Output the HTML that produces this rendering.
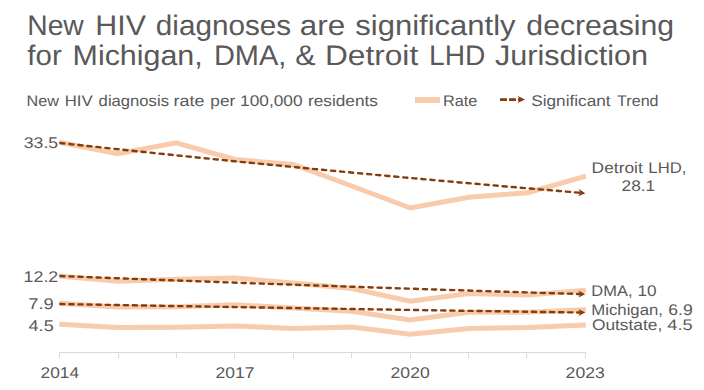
<!DOCTYPE html>
<html><head><meta charset="utf-8"><style>
html,body{margin:0;padding:0;background:#fff;}
svg{display:block;}
text{font-family:"Liberation Sans",sans-serif;fill:#595959;text-rendering:geometricPrecision;}
.ax{stroke:#D9D9D9;stroke-width:1;}
.rl{fill:none;stroke:#F8CBAD;stroke-width:5;stroke-linejoin:miter;}
.tr{fill:none;stroke:#843C0C;stroke-width:2.4;stroke-dasharray:4.2 4.87;stroke-linecap:round;stroke-dashoffset:-1.1;}
</style></head><body>
<svg width="704" height="390" viewBox="0 0 704 390">
<rect width="704" height="390" fill="#fff"/>
<line x1="59" y1="352.5" x2="586" y2="352.5" class="ax"/>
<line x1="59.5" y1="352" x2="59.5" y2="358" class="ax"/><line x1="118.5" y1="352" x2="118.5" y2="358" class="ax"/><line x1="176.5" y1="352" x2="176.5" y2="358" class="ax"/><line x1="234.5" y1="352" x2="234.5" y2="358" class="ax"/><line x1="293.5" y1="352" x2="293.5" y2="358" class="ax"/><line x1="351.5" y1="352" x2="351.5" y2="358" class="ax"/><line x1="410.5" y1="352" x2="410.5" y2="358" class="ax"/><line x1="468.5" y1="352" x2="468.5" y2="358" class="ax"/><line x1="526.5" y1="352" x2="526.5" y2="358" class="ax"/><line x1="585.5" y1="352" x2="585.5" y2="358" class="ax"/>
<polyline points="59.2,324.3 117.7,327.4 176.2,327.3 234.8,326.0 293.3,328.4 351.8,326.9 410.3,334.3 468.9,328.6 527.4,327.5 585.9,324.9" class="rl"/>
<polyline points="59.2,303.3 117.7,306.9 176.2,306.8 234.8,304.8 293.3,308.0 351.8,311.2 410.3,320.0 468.9,312.3 527.4,312.2 585.9,309.8" class="rl"/>
<polyline points="59.2,276.0 117.7,281.2 176.2,279.2 234.8,278.0 293.3,283.0 351.8,288.5 410.3,301.2 468.9,293.5 527.4,295.0 585.9,290.2" class="rl"/>
<polyline points="59.2,142.3 117.7,153.8 176.2,142.9 234.8,159.5 293.3,164.5 351.8,186.0 410.3,208.0 468.9,197.3 527.4,192.7 585.9,176.1" class="rl"/>
<polyline points="59.20,304.00 65.78,304.12 72.35,304.24 78.93,304.35 85.50,304.47 92.08,304.59 98.66,304.70 105.23,304.82 111.81,304.94 118.39,305.05 124.96,305.17 131.54,305.28 138.11,305.40 144.69,305.51 151.27,305.63 157.84,305.74 164.42,305.86 171.00,305.97 177.57,306.08 184.15,306.20 190.72,306.31 197.30,306.42 203.88,306.54 210.45,306.65 217.03,306.76 223.61,306.87 230.18,306.98 236.76,307.09 243.33,307.20 249.91,307.31 256.49,307.42 263.06,307.53 269.64,307.64 276.22,307.75 282.79,307.86 289.37,307.97 295.94,308.08 302.52,308.19 309.10,308.29 315.67,308.40 322.25,308.51 328.83,308.62 335.40,308.72 341.98,308.83 348.55,308.94 355.13,309.04 361.71,309.15 368.28,309.26 374.86,309.36 381.44,309.47 388.01,309.57 394.59,309.68 401.16,309.78 407.74,309.88 414.32,309.99 420.89,310.09 427.47,310.19 434.05,310.30 440.62,310.40 447.20,310.50 453.77,310.61 460.35,310.71 466.93,310.81 473.50,310.91 480.08,311.01 486.66,311.11 493.23,311.21 499.81,311.31 506.38,311.41 512.96,311.51 519.54,311.61 526.11,311.71 532.69,311.81 539.27,311.91 545.84,312.01 552.42,312.11 558.99,312.21 565.57,312.31 572.15,312.40 578.72,312.50 579.50,312.51" class="tr"/><polygon points="585.30,312.60 578.55,308.90 580.30,312.53 578.45,316.10" fill="#843C0C"/>
<polyline points="59.20,276.00 65.78,276.26 72.35,276.52 78.93,276.78 85.50,277.03 92.08,277.29 98.66,277.54 105.23,277.80 111.81,278.05 118.39,278.30 124.96,278.55 131.54,278.81 138.11,279.06 144.69,279.30 151.27,279.55 157.84,279.80 164.42,280.05 171.00,280.29 177.57,280.54 184.15,280.78 190.72,281.02 197.30,281.27 203.88,281.51 210.45,281.75 217.03,281.99 223.61,282.23 230.18,282.47 236.76,282.70 243.33,282.94 249.91,283.18 256.49,283.41 263.06,283.65 269.64,283.88 276.22,284.11 282.79,284.34 289.37,284.57 295.94,284.80 302.52,285.03 309.10,285.26 315.67,285.49 322.25,285.72 328.83,285.94 335.40,286.17 341.98,286.40 348.55,286.62 355.13,286.84 361.71,287.07 368.28,287.29 374.86,287.51 381.44,287.73 388.01,287.95 394.59,288.17 401.16,288.38 407.74,288.60 414.32,288.82 420.89,289.03 427.47,289.25 434.05,289.46 440.62,289.68 447.20,289.89 453.77,290.10 460.35,290.31 466.93,290.53 473.50,290.74 480.08,290.95 486.66,291.15 493.23,291.36 499.81,291.57 506.38,291.78 512.96,291.98 519.54,292.19 526.11,292.39 532.69,292.59 539.27,292.80 545.84,293.00 552.42,293.20 558.99,293.40 565.57,293.60 572.15,293.80 578.72,294.00 579.50,294.03" class="tr"/><polygon points="585.30,294.20 578.61,290.40 580.30,294.05 578.39,297.59" fill="#843C0C"/>
<polyline points="59.20,142.90 65.78,143.62 72.35,144.33 78.93,145.05 85.50,145.76 92.08,146.46 98.66,147.17 105.23,147.87 111.81,148.57 118.39,149.27 124.96,149.97 131.54,150.66 138.11,151.35 144.69,152.04 151.27,152.73 157.84,153.41 164.42,154.09 171.00,154.77 177.57,155.45 184.15,156.13 190.72,156.80 197.30,157.47 203.88,158.14 210.45,158.80 217.03,159.46 223.61,160.13 230.18,160.78 236.76,161.44 243.33,162.10 249.91,162.75 256.49,163.40 263.06,164.04 269.64,164.69 276.22,165.33 282.79,165.97 289.37,166.61 295.94,167.25 302.52,167.88 309.10,168.52 315.67,169.15 322.25,169.77 328.83,170.40 335.40,171.02 341.98,171.64 348.55,172.26 355.13,172.88 361.71,173.50 368.28,174.11 374.86,174.72 381.44,175.33 388.01,175.94 394.59,176.54 401.16,177.14 407.74,177.74 414.32,178.34 420.89,178.94 427.47,179.53 434.05,180.12 440.62,180.71 447.20,181.30 453.77,181.89 460.35,182.47 466.93,183.06 473.50,183.64 480.08,184.21 486.66,184.79 493.23,185.36 499.81,185.94 506.38,186.51 512.96,187.07 519.54,187.64 526.11,188.21 532.69,188.77 539.27,189.33 545.84,189.89 552.42,190.44 558.99,191.00 565.57,191.55 572.15,192.10 578.72,192.65 579.50,192.72" class="tr"/><polygon points="585.30,193.20 578.82,189.05 580.32,192.79 578.22,196.22" fill="#843C0C"/>
<rect x="415" y="97" width="25" height="6" fill="#F8CBAD"/>
<line x1="500" y1="99.6" x2="521" y2="99.6" stroke="#843C0C" stroke-width="2.8" stroke-dasharray="7 2"/>
<polygon points="525,99.6 517.8,96.1 519.6,99.6 517.8,103.1" fill="#843C0C"/>
<text x="27.24" y="34.5" font-size="28.3" textLength="56.53" lengthAdjust="spacingAndGlyphs">New</text><text x="95.27" y="34.5" font-size="28.3" textLength="50.64" lengthAdjust="spacingAndGlyphs">HIV</text><text x="155.81" y="34.5" font-size="28.3" textLength="135.35" lengthAdjust="spacingAndGlyphs">diagnoses</text><text x="299.84" y="34.5" font-size="28.3" textLength="45.33" lengthAdjust="spacingAndGlyphs">are</text><text x="355.32" y="34.5" font-size="28.3" textLength="160.30" lengthAdjust="spacingAndGlyphs">significantly</text><text x="526.39" y="34.5" font-size="28.3" textLength="147.63" lengthAdjust="spacingAndGlyphs">decreasing</text><text x="27.36" y="64.7" font-size="28.3" textLength="34.39" lengthAdjust="spacingAndGlyphs">for</text><text x="72.57" y="64.7" font-size="28.3" textLength="130.17" lengthAdjust="spacingAndGlyphs">Michigan,</text><text x="213.93" y="64.7" font-size="28.3" textLength="72.42" lengthAdjust="spacingAndGlyphs">DMA,</text><text x="295.18" y="64.7" font-size="28.3" textLength="20.34" lengthAdjust="spacingAndGlyphs">&amp;</text><text x="324.97" y="64.7" font-size="28.3" textLength="93.20" lengthAdjust="spacingAndGlyphs">Detroit</text><text x="429.00" y="64.7" font-size="28.3" textLength="56.28" lengthAdjust="spacingAndGlyphs">LHD</text><text x="495.04" y="64.7" font-size="28.3" textLength="153.01" lengthAdjust="spacingAndGlyphs">Jurisdiction</text><text x="26.60" y="105.7" font-size="15.4" textLength="32.40" lengthAdjust="spacingAndGlyphs">New</text><text x="64.76" y="105.7" font-size="15.4" textLength="27.85" lengthAdjust="spacingAndGlyphs">HIV</text><text x="98.63" y="105.7" font-size="15.4" textLength="70.35" lengthAdjust="spacingAndGlyphs">diagnosis</text><text x="173.63" y="105.7" font-size="15.4" textLength="30.94" lengthAdjust="spacingAndGlyphs">rate</text><text x="210.39" y="105.7" font-size="15.4" textLength="24.78" lengthAdjust="spacingAndGlyphs">per</text><text x="240.00" y="105.7" font-size="15.4" textLength="62.59" lengthAdjust="spacingAndGlyphs">100,000</text><text x="307.98" y="105.7" font-size="15.4" textLength="69.97" lengthAdjust="spacingAndGlyphs">residents</text><text x="443.00" y="105.6" font-size="15.4" textLength="34.39" lengthAdjust="spacingAndGlyphs">Rate</text><text x="531.23" y="105.6" font-size="15.4" textLength="79.43" lengthAdjust="spacingAndGlyphs">Significant</text><text x="617.10" y="105.6" font-size="15.4" textLength="41.45" lengthAdjust="spacingAndGlyphs">Trend</text><text x="23.74" y="147.75" font-size="15.5" textLength="34.39" lengthAdjust="spacingAndGlyphs">33.5</text><text x="23.56" y="281.8" font-size="15.5" textLength="34.76" lengthAdjust="spacingAndGlyphs">12.2</text><text x="28.29" y="309.0" font-size="15.5" textLength="25.43" lengthAdjust="spacingAndGlyphs">7.9</text><text x="28.55" y="330.6" font-size="15.5" textLength="25.18" lengthAdjust="spacingAndGlyphs">4.5</text><text x="40.54" y="377.9" font-size="15.5" textLength="38.48" lengthAdjust="spacingAndGlyphs">2014</text><text x="215.63" y="377.9" font-size="15.5" textLength="38.84" lengthAdjust="spacingAndGlyphs">2017</text><text x="390.62" y="377.9" font-size="15.5" textLength="39.07" lengthAdjust="spacingAndGlyphs">2020</text><text x="565.62" y="377.9" font-size="15.5" textLength="39.17" lengthAdjust="spacingAndGlyphs">2023</text><text x="591.61" y="172.8" font-size="15.4" textLength="51.18" lengthAdjust="spacingAndGlyphs">Detroit</text><text x="648.37" y="172.8" font-size="15.4" textLength="38.01" lengthAdjust="spacingAndGlyphs">LHD,</text><text x="621.53" y="190.8" font-size="15.4" textLength="33.76" lengthAdjust="spacingAndGlyphs">28.1</text><text x="591.38" y="295.6" font-size="15.4" textLength="41.09" lengthAdjust="spacingAndGlyphs">DMA,</text><text x="637.51" y="295.6" font-size="15.4" textLength="19.13" lengthAdjust="spacingAndGlyphs">10</text><text x="591.36" y="315.3" font-size="15.4" textLength="71.54" lengthAdjust="spacingAndGlyphs">Michigan,</text><text x="668.37" y="315.3" font-size="15.4" textLength="24.41" lengthAdjust="spacingAndGlyphs">6.9</text><text x="591.92" y="330.4" font-size="15.4" textLength="70.30" lengthAdjust="spacingAndGlyphs">Outstate,</text><text x="667.24" y="330.4" font-size="15.4" textLength="25.39" lengthAdjust="spacingAndGlyphs">4.5</text>
</svg>
</body></html>
